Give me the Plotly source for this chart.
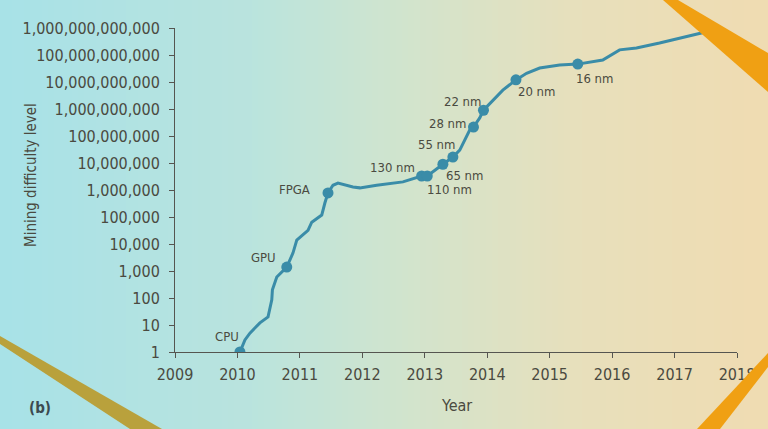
import math
import plotly.graph_objects as go

# difficulty curve
years = [2010.04, 2010.12, 2010.20, 2010.36, 2010.49, 2010.55, 2010.56, 2010.63,
         2010.79, 2010.89, 2010.95, 2011.13, 2011.19, 2011.35, 2011.40, 2011.45,
         2011.53, 2011.61, 2011.85, 2011.96, 2012.23, 2012.44, 2012.65, 2012.95,
         2013.04, 2013.29, 2013.45, 2013.56, 2013.67, 2013.72, 2013.78, 2013.88,
         2013.94, 2014.07, 2014.25, 2014.46, 2014.63, 2014.84, 2015.16, 2015.45,
         2015.85, 2016.12, 2016.39, 2016.76, 2017.08, 2017.43, 2017.60]
difficulty = [1, 2.8, 5, 12, 20, 85, 200, 600,
              1400, 4700, 14000, 32000, 64000, 118000, 330000, 780000,
              1.5e6, 1.8e6, 1.3e6, 1.2e6, 1.5e6, 1.7e6, 2.0e6, 3.3e6,
              3.3e6, 9e6, 1.66e7, 3.0e7, 9.2e7, 1.66e8, 2.15e8, 4.67e8,
              9.0e8, 1.8e9, 5.0e9, 1.2e10, 2.1e10, 3.3e10, 4.3e10, 4.6e10,
              6.5e10, 1.55e11, 1.82e11, 2.77e11, 4.27e11, 6.5e11, 8.0e11]

# hardware milestones
node_labels = ["CPU", "GPU", "FPGA", "130 nm", "110 nm", "65 nm", "55 nm",
               "28 nm", "22 nm", "20 nm", "16 nm"]
node_years = [2010.04, 2010.79, 2011.45, 2012.95, 2013.04, 2013.29, 2013.45,
              2013.78, 2013.94, 2014.46, 2015.45]
node_difficulty = [1, 1400, 780000, 3.3e6, 3.3e6, 9e6, 1.66e7,
                   2.15e8, 9.0e8, 1.2e10, 4.6e10]

year_ticks = [2009, 2010, 2011, 2012, 2013, 2014, 2015, 2016, 2017, 2018]
diff_ticks = [10 ** k for k in range(13)]
diff_tick_text = ["{:,}".format(v) for v in diff_ticks]

# label offsets in pixels (style only)
label_shift = {
    "CPU": (-13, 16), "GPU": (-23, 10), "FPGA": (-33, 3),
    "130 nm": (-29, 9), "110 nm": (22, -13), "65 nm": (22, -11),
    "55 nm": (-16, 13), "28 nm": (-26, 4), "22 nm": (-21, 9),
    "20 nm": (21, -12), "16 nm": (17, -14),
}

W_FIG, H_FIG = 768, 429
L, R, T, B = 175, 737, 28, 352
FONT = "DejaVu Sans Condensed, Liberation Sans Narrow, Arial Narrow, sans-serif"
TXT = "#4a4a40"
BLUE = "#3a8ca8"


def px(x):
    return (x - L) / (R - L)


def py(y):
    return (B - y) / (B - T)


# background gradient made of thin strips
stops = [(0, (168, 226, 232)), (250, (186, 228, 222)), (420, (212, 228, 204)),
         (580, (232, 224, 188)), (768, (240, 220, 178))]


def grad(x):
    for (x0, c0), (x1, c1) in zip(stops[:-1], stops[1:]):
        if x0 <= x <= x1:
            f = (x - x0) / (x1 - x0)
            return "rgb(%d,%d,%d)" % tuple(int(a + (b - a) * f) for a, b in zip(c0, c1))
    return "rgb(%d,%d,%d)" % stops[-1][1]


shapes = []
step = 6
for x in range(0, W_FIG, step):
    shapes.append(dict(type="rect", xref="paper", yref="paper", layer="below",
                       x0=px(x), x1=px(x + step + 1), y0=py(H_FIG), y1=py(0),
                       fillcolor=grad(x + step / 2), line=dict(width=0)))


def wedge(points, color, layer):
    path = "M " + " L ".join("%f,%f" % (px(a), py(b)) for a, b in points) + " Z"
    return dict(type="path", xref="paper", yref="paper", path=path,
                fillcolor=color, line=dict(width=0), layer=layer)


shapes.append(wedge([(0, 336), (0, 344), (130, 429), (162, 429)], "#b9a13c", "below"))
shapes.append(wedge([(663, 0), (678, 0), (768, 53), (768, 92)], "#f0a013", "above"))
shapes.append(wedge([(697, 429), (768, 353), (768, 367), (720, 429)], "#f0a013", "above"))

fig = go.Figure()
fig.add_trace(go.Scatter(x=years, y=difficulty, mode="lines",
                         line=dict(color=BLUE, width=3), hoverinfo="skip"))
fig.add_trace(go.Scatter(x=node_years, y=node_difficulty, mode="markers",
                         marker=dict(color=BLUE, size=11), hoverinfo="skip"))

annotations = []
for lab, x, y in zip(node_labels, node_years, node_difficulty):
    dx, dy = label_shift[lab]
    annotations.append(dict(x=x, y=math.log10(y), text=lab, showarrow=False,
                            xshift=dx, yshift=dy,
                            font=dict(family=FONT, size=13, color=TXT)))

annotations.append(dict(xref="paper", yref="paper", x=px(31), y=py(175),
                        xanchor="center", yanchor="middle",
                        text="Mining difficulty level", textangle=-90, showarrow=False,
                        font=dict(family=FONT, size=15, color=TXT)))
annotations.append(dict(xref="paper", yref="paper", x=px(456), y=py(405),
                        xanchor="center", yanchor="middle",
                        text="Year", showarrow=False,
                        font=dict(family=FONT, size=16, color=TXT)))
annotations.append(dict(xref="paper", yref="paper", x=px(40), y=py(408),
                        xanchor="center", yanchor="middle",
                        text="<b>(b)</b>", showarrow=False,
                        font=dict(family=FONT, size=15, color="#3c4a50")))

fig.update_layout(
    width=W_FIG, height=H_FIG,
    margin=dict(l=L, r=W_FIG - R, t=T, b=H_FIG - B),
    paper_bgcolor="rgb(200,228,215)",
    plot_bgcolor="rgba(0,0,0,0)",
    showlegend=False,
    shapes=shapes,
    annotations=annotations,
    font=dict(family=FONT, size=16, color=TXT),
)
fig.update_xaxes(range=[2009, 2018], tickvals=year_ticks, showgrid=False,
                 zeroline=False, showline=True, linecolor="#555550", linewidth=1,
                 ticks="outside", ticklen=5, tickcolor="#555550", automargin=False,
                 ticklabelstandoff=3,
                 tickfont=dict(family=FONT, size=16, color=TXT))
fig.update_yaxes(type="log", range=[0, 12], tickvals=diff_ticks, ticktext=diff_tick_text,
                 showgrid=False, zeroline=False, showline=True, linecolor="#555550",
                 linewidth=1, ticks="outside", ticklen=5, tickcolor="#555550",
                 ticklabelstandoff=6, automargin=False,
                 tickfont=dict(family=FONT, size=16, color=TXT))

# drop the browser's default page margin so the figure fills the window
fig.write_html("out.html", config={"displayModeBar": False},
               post_script="document.body.style.margin='0';")
